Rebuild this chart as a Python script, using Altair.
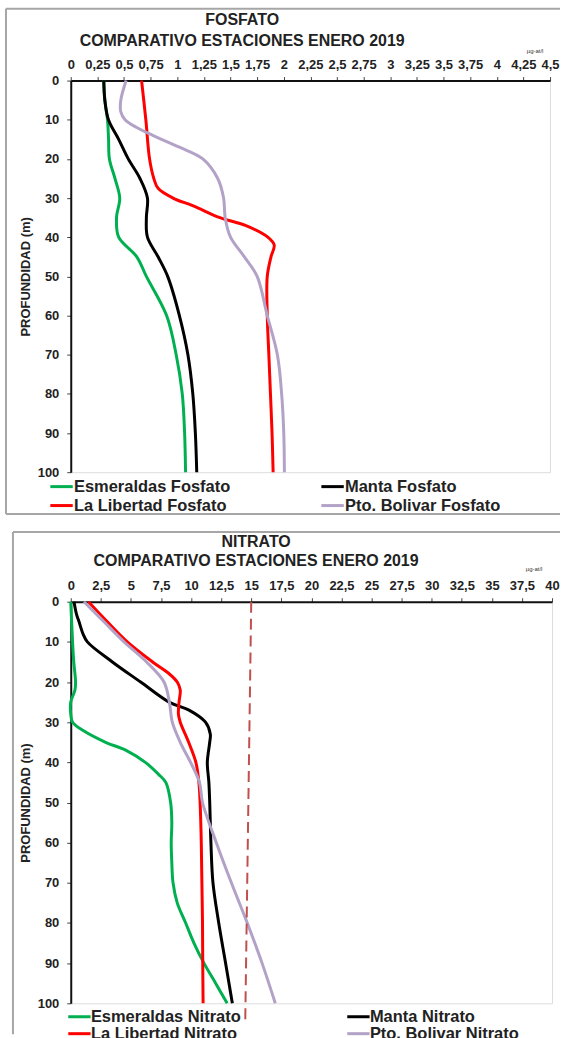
import altair as alt
import pandas as pd

# ---------------- FOSFATO data (depth m, value µg-at/l) ----------------
fos_esm_d = [0, 5, 10, 15, 20, 25, 30, 35, 40, 45, 50, 60, 70, 80, 90, 100]
fos_esm_v = [0.31, 0.32, 0.345, 0.355, 0.363, 0.415, 0.46, 0.43, 0.45, 0.62, 0.71, 0.90, 0.99, 1.047, 1.069, 1.078]
fos_man_d = [0, 5, 10, 15, 20, 25, 30, 35, 40, 45, 50, 60, 70, 80, 90, 100]
fos_man_v = [0.31, 0.32, 0.354, 0.45, 0.54, 0.65, 0.72, 0.71, 0.72, 0.82, 0.91, 1.02, 1.10, 1.146, 1.17, 1.183]
fos_lib_d = [0, 10, 20, 25, 27.5, 30, 32, 35, 37, 40, 42, 45, 50, 60, 70, 80, 90, 100]
fos_lib_v = [0.665, 0.705, 0.74, 0.78, 0.82, 0.96, 1.15, 1.40, 1.64, 1.85, 1.91, 1.88, 1.845, 1.845, 1.86, 1.875, 1.89, 1.90]
fos_bol_d = [0, 5, 8, 10, 12, 14, 17, 20, 25, 30, 35, 40, 45, 50, 60, 70, 80, 90, 100]
fos_bol_v = [0.52, 0.47, 0.47, 0.51, 0.62, 0.77, 1.02, 1.24, 1.38, 1.435, 1.45, 1.50, 1.63, 1.75, 1.845, 1.94, 1.98, 2.0, 2.006]
fos_names = ["Esmeraldas Fosfato", "Manta Fosfato", "La Libertad Fosfato", "Pto. Bolivar Fosfato"]
fos_ticks = [0, 0.25, 0.5, 0.75, 1, 1.25, 1.5, 1.75, 2, 2.25, 2.5, 2.75, 3, 3.25, 3.5, 3.75, 4, 4.25, 4.5]

# ---------------- NITRATO data ----------------
nit_esm_d = [0, 10, 15, 20, 22, 25, 28, 30, 32, 35, 37, 40, 43, 45, 50, 55, 60, 65, 70, 75, 80, 85, 90, 95, 100]
nit_esm_v = [0, 0.15, 0.25, 0.4, 0.35, 0.0, 0.0, 0.15, 1.0, 2.9, 4.6, 6.2, 7.3, 7.9, 8.3, 8.4, 8.35, 8.4, 8.5, 8.85, 9.55, 10.24, 11.07, 12.04, 13.0]
nit_man_d = [0, 3, 5, 8, 10, 15, 20, 25, 27, 30, 33, 35, 40, 45, 50, 60, 70, 80, 90, 100]
nit_man_v = [0.27, 0.47, 0.69, 1.02, 1.38, 3.46, 5.81, 8.17, 9.83, 11.2, 11.6, 11.55, 11.35, 11.48, 11.55, 11.65, 11.82, 12.3, 12.87, 13.43]
nit_lib_d = [0, 5, 10, 15, 18, 20, 22, 25, 28, 30, 35, 40, 45, 50, 60, 70, 80, 90, 100]
nit_lib_v = [1.47, 3.04, 4.7, 6.8, 8.2, 8.85, 9.1, 9.0, 8.95, 9.1, 9.8, 10.4, 10.65, 10.75, 10.85, 10.9, 10.95, 10.97, 11.0]
nit_bol_d = [0, 5, 10, 15, 20, 25, 30, 35, 40, 45, 50, 60, 70, 80, 90, 100]
nit_bol_v = [1.1, 2.76, 4.43, 6.3, 7.75, 8.2, 8.44, 9.1, 9.96, 10.7, 10.95, 12.1, 13.35, 14.67, 15.9, 17.0]
nit_names = ["Esmeraldas  Nitrato", "Manta  Nitrato", "La Libertad Nitrato", "Pto. Bolivar Nitrato"]
nit_ticks = [0, 2.5, 5, 7.5, 10, 12.5, 15, 17.5, 20, 22.5, 25, 27.5, 30, 32.5, 35, 37.5, 40]
limit_d = [0, 105]
limit_v = [15, 14.5]

colors = ["#00B050", "#000000", "#FF0000", "#B3A2C7"]
widths = [3, 3, 3, 2]
FONT = "Liberation Sans"


def long_df(names, pairs):
    rows = []
    for name, (ds, vs) in zip(names, pairs):
        for i, (d, v) in enumerate(zip(ds, vs)):
            rows.append({"serie": name, "depth": d, "val": v, "i": i})
    return pd.DataFrame(rows)


fos_df = long_df(fos_names, [(fos_esm_d, fos_esm_v), (fos_man_d, fos_man_v),
                             (fos_lib_d, fos_lib_v), (fos_bol_d, fos_bol_v)])
nit_df = long_df(nit_names, [(nit_esm_d, nit_esm_v), (nit_man_d, nit_man_v),
                             (nit_lib_d, nit_lib_v), (nit_bol_d, nit_bol_v)])
lim_df = pd.DataFrame({"depth": limit_d, "val": limit_v, "i": [0, 1]})
one = pd.DataFrame({"k": [0]})


def rule(x1, x2, y1, y2):
    return alt.Chart(one).mark_rule(stroke="#A6A6A6", strokeWidth=2).encode(
        x=alt.value(x1), x2=alt.value(x2), y=alt.value(y1), y2=alt.value(y2))


def panel(df, names, ticks, xmax, W, H, frame_rules, titles, tcx, unit_xy, legend_xy,
          colpad, sym, with_limit=False):
    xenc = alt.X("val:Q", scale=alt.Scale(domain=[0, xmax], nice=False, zero=False),
                 axis=alt.Axis(orient="top", values=ticks, title=None, grid=False,
                               labelOverlap=False, labelFlush=False,
                               labelExpr="replace(format(datum.value, '~g'), '.', ',')",
                               labelFont=FONT, labelFontSize=13, labelFontWeight="bold",
                               labelColor="#222", labelPadding=5, tickSize=4,
                               tickColor="#444", domainColor="#111", domainWidth=2))
    yenc = alt.Y("depth:Q", scale=alt.Scale(domain=[0, 100], reverse=True, nice=False),
                 axis=alt.Axis(values=list(range(0, 101, 10)), title="PROFUNDIDAD (m)", grid=False,
                               labelFont=FONT, labelFontSize=13, labelFontWeight="bold",
                               labelColor="#222", labelPadding=8, tickSize=4, tickColor="#444",
                               domainColor="#111", domainWidth=2,
                               titleFont=FONT, titleFontSize=13, titleFontWeight="bold",
                               titleColor="#222", titlePadding=5))
    layers = [rule(*r) for r in frame_rules]
    lines = alt.Chart(df).mark_line(interpolate="catmull-rom").encode(
        x=xenc, y=yenc, order=alt.Order("i:Q"),
        color=alt.Color("serie:N", scale=alt.Scale(domain=names, range=colors),
                        legend=alt.Legend(title=None, orient="none", legendX=legend_xy[0],
                                          legendY=legend_xy[1], columns=2, direction="horizontal",
                                          columnPadding=colpad, rowPadding=0,
                                          symbolType=sym[0], symbolSize=sym[1], symbolStrokeWidth=3,
                                          labelFont=FONT, labelFontSize=16.5, labelFontWeight="bold",
                                          labelColor="#222", labelOffset=sym[2], padding=0,
                                          labelLimit=300)),
        strokeWidth=alt.StrokeWidth("serie:N", scale=alt.Scale(domain=names, range=widths), legend=None),
    )
    layers.append(lines)
    if with_limit:
        lim = alt.Chart(lim_df).mark_line(color="#C0504D", strokeDash=[11, 6], strokeWidth=2).encode(
            x=xenc, y=yenc, order=alt.Order("i:Q"))
        layers.append(lim)
    for (ty, txt) in titles:
        layers.append(alt.Chart(one).mark_text(font=FONT, fontSize=16, fontWeight="bold", color="#222").encode(
            x=alt.value(tcx), y=alt.value(ty), text=alt.value(txt)))
    layers.append(alt.Chart(one).mark_text(font=FONT, fontSize=6, color="#333").encode(
        x=alt.value(unit_xy[0]), y=alt.value(unit_xy[1]), text=alt.value("µg-at/l")))
    return alt.layer(*layers).properties(width=W, height=H)


# origin of both plots at x = 70 (page coords)
top = panel(fos_df, fos_names, fos_ticks, 4.5, 481, 393,
            frame_rules=[(-65, 491, -72, -72), (-65, -65, -72, 435), (-65, 491, 435, 435)],
            titles=[(-61, "FOSFATO"), (-40, "COMPARATIVO ESTACIONES ENERO 2019")], tcx=172,
            unit_xy=(466, -30), legend_xy=(-19.75, 397), colpad=85,
            sym=("M-1.25,0H1.25", 324, 2))

bot = panel(nit_df, nit_names, nit_ticks, 40, 483, 403,
            frame_rules=[(-58, 491, -70, -70), (-58, -58, -70, 434)],
            titles=[(-60, "NITRATO"), (-41, "COMPARATIVO ESTACIONES ENERO 2019")], tcx=186,
            unit_xy=(465, -33), legend_xy=(0.2, 408), colpad=96,
            sym=("M-1.6,0H1.6", 196, 3), with_limit=True)

chart = alt.vconcat(top, bot, spacing=14).resolve_scale(
    color="independent", strokeWidth="independent", x="independent", y="independent"
).resolve_legend(color="independent").properties(
    padding={"left": 4, "top": 5, "right": 0, "bottom": 0}
).configure_view(stroke="#111", strokeWidth=2).configure(background="white")

chart.save("out.html", embed_options={"renderer": "svg", "actions": False})
